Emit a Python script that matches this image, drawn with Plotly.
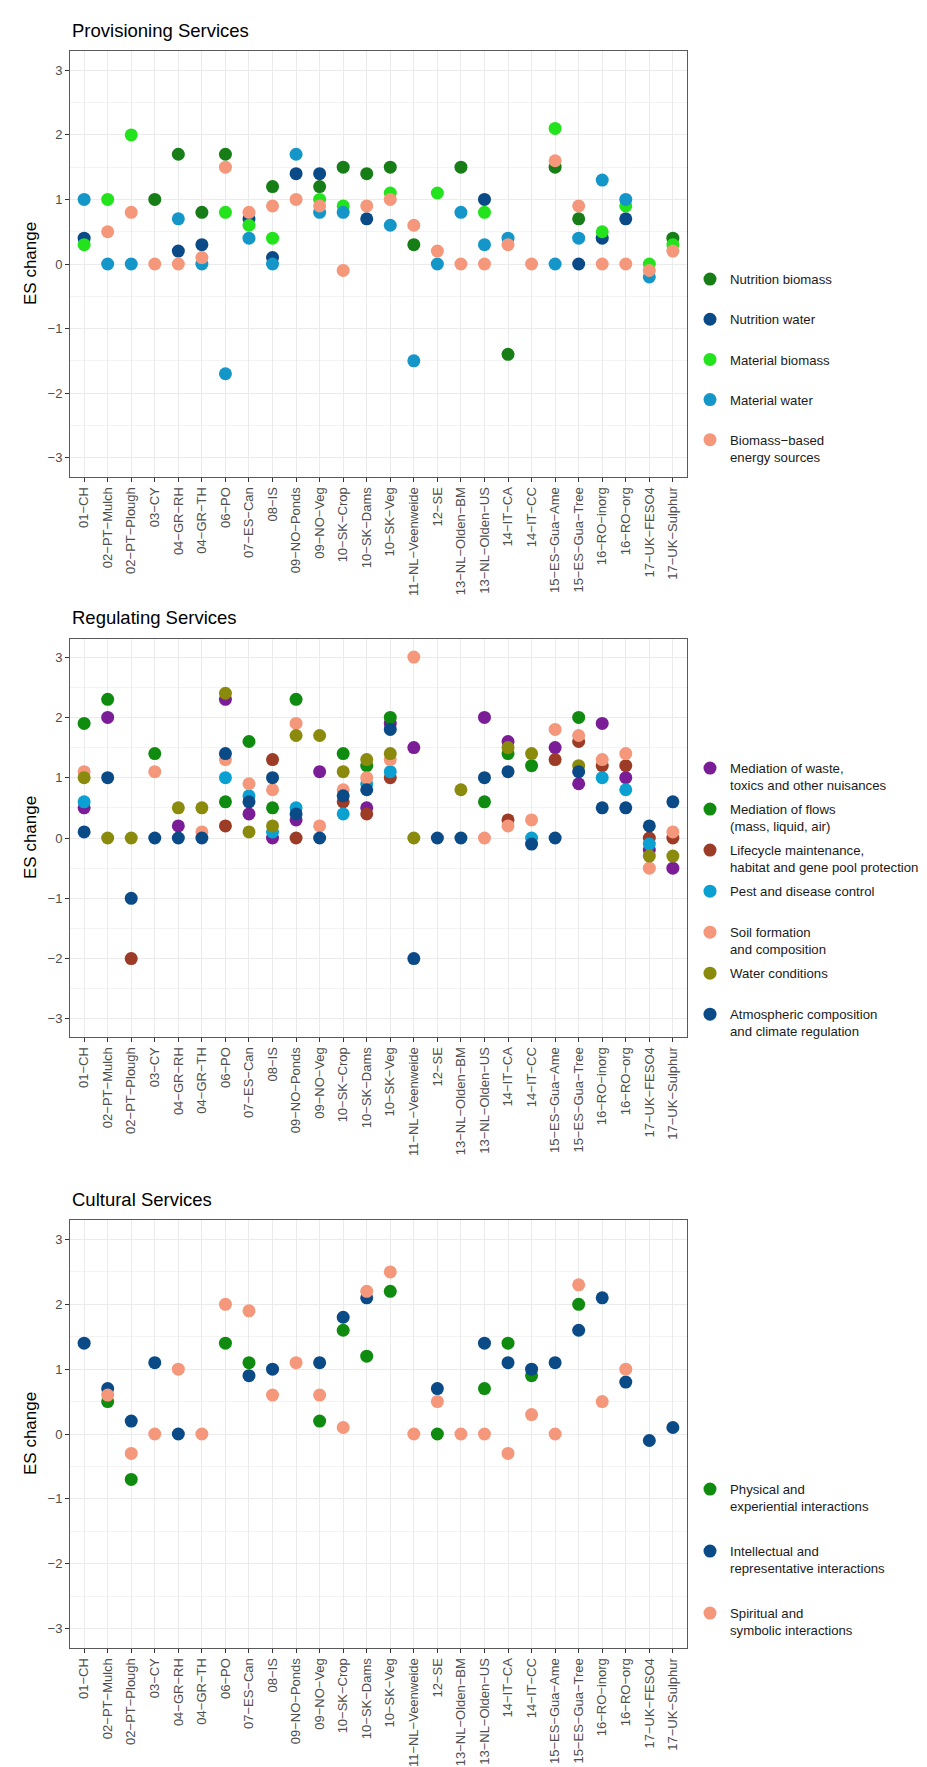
import plotly.graph_objects as go

W, H = 927, 1767
FONT = "Liberation Sans, Arial, sans-serif"

categories = ["01−CH", "02−PT−Mulch", "02−PT−Plough", "03−CY", "04−GR−RH", "04−GR−TH",
              "06−PO", "07−ES−Can", "08−IS", "09−NO−Ponds", "09−NO−Veg", "10−SK−Crop",
              "10−SK−Dams", "10−SK−Veg", "11−NL−Veenweide", "12−SE", "13−NL−Olden−BM",
              "13−NL−Olden−US", "14−IT−CA", "14−IT−CC", "15−ES−Gua−Ame", "15−ES−Gua−Tree",
              "16−RO−inorg", "16−RO−org", "17−UK−FESO4", "17−UK−Sulphur"]
N = None

# ---------------- Provisioning ----------------
nutrition_biomass = [N, N, N, 1.0, 1.7, 0.8, 1.7, N, 1.2, N, 1.2, 1.5, 1.4, 1.5, 0.3, N, 1.5, N, -1.4, N, 1.5, 0.7, N, N, N, 0.4]
nutrition_water   = [0.4, N, N, N, 0.2, 0.3, N, 0.7, 0.1, 1.4, 1.4, N, 0.7, N, N, N, N, 1.0, N, N, N, 0.0, 0.4, 0.7, N, N]
material_biomass  = [0.3, 1.0, 2.0, N, N, N, 0.8, 0.6, 0.4, N, 1.0, 0.9, N, 1.1, N, 1.1, N, 0.8, N, N, 2.1, N, 0.5, 0.9, 0.0, 0.3]
material_water    = [1.0, 0.0, 0.0, N, 0.7, 0.0, -1.7, 0.4, 0.0, 1.7, 0.8, 0.8, N, 0.6, -1.5, 0.0, 0.8, 0.3, 0.4, N, 0.0, 0.4, 1.3, 1.0, -0.2, N]
biomass_energy    = [N, 0.5, 0.8, 0.0, 0.0, 0.1, 1.5, 0.8, 0.9, 1.0, 0.9, -0.1, 0.9, 1.0, 0.6, 0.2, 0.0, 0.0, 0.3, 0.0, 1.6, 0.9, 0.0, 0.0, -0.1, 0.2]

# ---------------- Regulating ----------------
med_waste   = [0.5, 2.0, N, N, 0.2, N, 2.3, 0.4, 0.0, 0.3, 1.1, N, 0.5, 1.9, 1.5, N, N, 2.0, 1.6, N, 1.5, 0.9, 1.9, 1.0, -0.2, -0.5]
med_flows   = [1.9, 2.3, N, 1.4, N, N, 0.6, 1.6, 0.5, 2.3, N, 1.4, 1.2, 2.0, N, N, N, 0.6, 1.4, 1.2, N, 2.0, N, N, N, N]
lifecycle   = [N, N, -2.0, N, N, N, 0.2, N, 1.3, 0.0, N, 0.6, 0.4, 1.0, N, N, N, N, 0.3, N, 1.3, 1.6, 1.2, 1.2, 0.0, 0.0]
pest        = [0.6, N, N, N, N, N, 1.0, 0.7, 0.1, 0.5, N, 0.4, 0.9, 1.1, N, N, N, N, N, 0.0, N, N, 1.0, 0.8, -0.1, N]
soil        = [1.1, N, N, 1.1, N, 0.1, 1.3, 0.9, 0.8, 1.9, 0.2, 0.8, 1.0, 1.3, 3.0, N, N, 0.0, 0.2, 0.3, 1.8, 1.7, 1.3, 1.4, -0.5, 0.1]
water_cond  = [1.0, 0.0, 0.0, N, 0.5, 0.5, 2.4, 0.1, 0.2, 1.7, 1.7, 1.1, 1.3, 1.4, 0.0, N, 0.8, N, 1.5, 1.4, N, 1.2, N, N, -0.3, -0.3]
atmospheric = [0.1, 1.0, -1.0, 0.0, 0.0, 0.0, 1.4, 0.6, 1.0, 0.4, 0.0, 0.7, 0.8, 1.8, -2.0, 0.0, 0.0, 1.0, 1.1, -0.1, 0.0, 1.1, 0.5, 0.5, 0.2, 0.6]

# ---------------- Cultural ----------------
physical     = [N, 0.5, -0.7, N, N, N, 1.4, 1.1, N, N, 0.2, 1.6, 1.2, 2.2, N, 0.0, N, 0.7, 1.4, 0.9, N, 2.0, N, N, N, N]
intellectual = [1.4, 0.7, 0.2, 1.1, 0.0, N, N, 0.9, 1.0, N, 1.1, 1.8, 2.1, N, N, 0.7, N, 1.4, 1.1, 1.0, 1.1, 1.6, 2.1, 0.8, -0.1, 0.1]
spiritual    = [N, 0.6, -0.3, 0.0, 1.0, 0.0, 2.0, 1.9, 0.6, 1.1, 0.6, 0.1, 2.2, 2.5, 0.0, 0.5, 0.0, 0.0, -0.3, 0.3, 0.0, 2.3, 0.5, 1.0, N, N]

SALMON = "#f4977b"
NAVY = "#0a4a87"
panels = [
    dict(title="Provisioning Services", top=43, bottom=469, legend="legend", gap=20,
         series=[("Nutrition biomass", nutrition_biomass, "#177d17"),
                 ("Nutrition water", nutrition_water, NAVY),
                 ("Material biomass", material_biomass, "#22e31c"),
                 ("Material water", material_water, "#1496c8"),
                 ("Biomass−based<br>energy sources", biomass_energy, SALMON)],
         ly=256),
    dict(title="Regulating Services", top=631, bottom=1029, legend="legend2", gap=3.7,
         series=[("Mediation of waste,<br>toxics and other nuisances", med_waste, "#7a1d96"),
                 ("Mediation of flows<br>(mass, liquid, air)", med_flows, "#0f8c0f"),
                 ("Lifecycle maintenance,<br>habitat and gene pool protection", lifecycle, "#9c3b26"),
                 ("Pest and disease control<br>&nbsp;", pest, "#0aa0d2"),
                 ("Soil formation<br>and composition", soil, SALMON),
                 ("Water conditions<br>&nbsp;", water_cond, "#8a8a0c"),
                 ("Atmospheric composition<br>and climate regulation", atmospheric, NAVY)],
         ly=745),
    dict(title="Cultural Services", top=1212, bottom=1640, legend="legend3", gap=24.7,
         series=[("Physical and<br>experiential interactions", physical, "#0f8c0f"),
                 ("Intellectual and<br>representative interactions", intellectual, NAVY),
                 ("Spiritual and<br>symbolic interactions", spiritual, SALMON)],
         ly=1466),
]

X0, X1 = 62, 679
fig = go.Figure()
annotations = []
layout = {}
for i, p in enumerate(panels, start=1):
    sfx = "" if i == 1 else str(i)
    for name, vals, col in p["series"]:
        fig.add_trace(go.Scatter(
            x=categories, y=vals, mode="markers", name=name,
            marker=dict(color=col, size=13, line=dict(width=0)),
            xaxis="x" + sfx, yaxis="y" + sfx, legend=p["legend"],
            legendgroup=f"{p['legend']}-{name}", showlegend=True,
            hoverinfo="x+y+name"))
    layout["xaxis" + sfx] = dict(
        domain=[X0 / W, X1 / W], anchor="y" + sfx, type="category",
        categoryorder="array", categoryarray=categories, range=[-0.6, 25.6],
        tickangle=-90, tickfont=dict(family=FONT, size=13, color="#4d4d4d"),
        showgrid=True, gridcolor="#ebebeb", gridwidth=1.2,
        showline=True, mirror=True, linecolor="#5a5a5a", linewidth=1,
        ticks="outside", ticklen=4, tickcolor="#333333", tickwidth=1,
        zeroline=False, fixedrange=True)
    layout["yaxis" + sfx] = dict(
        domain=[1 - p["bottom"] / H, 1 - p["top"] / H], anchor="x" + sfx,
        range=[-3.3, 3.3], tickvals=[-3, -2, -1, 0, 1, 2, 3],
        tickfont=dict(family=FONT, size=13, color="#4d4d4d"),
        showgrid=True, gridcolor="#ebebeb", gridwidth=1.2,
        minor=dict(dtick=0.5, tick0=0, showgrid=True, gridcolor="#f3f3f3", gridwidth=0.8),
        showline=True, mirror=True, linecolor="#5a5a5a", linewidth=1,
        ticks="outside", ticklen=4, tickcolor="#333333", tickwidth=1,
        zeroline=False, fixedrange=True)
    layout[p["legend"]] = dict(
        x=682 / W, y=1 - p["ly"] / H, xanchor="left", yanchor="top",
        tracegroupgap=p["gap"], valign="top", bgcolor="rgba(0,0,0,0)",
        font=dict(family=FONT, size=13.2, color="#1a1a1a"), itemclick=False)
    annotations.append(dict(
        text=p["title"], x=X0 / W, y=1 - (p["top"] - 21) / H, xref="paper", yref="paper",
        xanchor="left", yanchor="middle", showarrow=False,
        font=dict(family=FONT, size=18.5, color="#000000")))
    annotations.append(dict(
        text="ES change", x=22 / W, y=1 - (p["top"] + p["bottom"]) / 2 / H,
        xref="paper", yref="paper", xanchor="center", yanchor="middle",
        textangle=-90, showarrow=False, font=dict(family=FONT, size=17, color="#000000")))

fig.update_layout(
    width=W, height=H, margin=dict(l=0, r=0, t=0, b=0),
    paper_bgcolor="white", plot_bgcolor="white",
    font=dict(family=FONT), annotations=annotations, **layout)

fig.write_html("out.html")
